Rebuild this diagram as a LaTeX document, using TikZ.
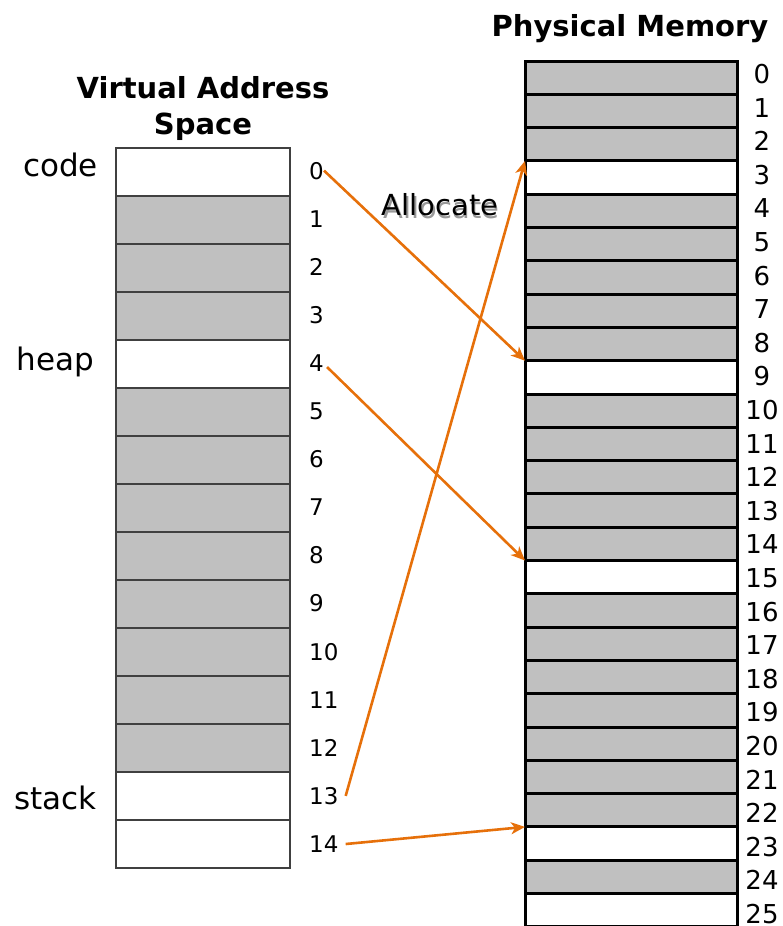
\documentclass[tikz,border=0pt]{standalone}
\usepackage{fontspec}
\setmainfont{DejaVu Sans}
\usetikzlibrary{arrows.meta}
\definecolor{cellgray}{RGB}{192,192,192}
\definecolor{allocorange}{RGB}{230,112,10}

\begin{document}
\begin{tikzpicture}
		[
			x=1pt, y=-1pt,
			vcell/.style = {rectangle, draw=black!75, line width=1.2pt, minimum width=174pt, minimum height=48pt, inner sep=0pt, outer sep=0pt},
			pcell/.style = {rectangle, draw=black, line width=3pt, minimum width=212pt, minimum height=33.3pt, inner sep=0pt, outer sep=0pt},
			used/.style = {fill=cellgray},
			free/.style = {fill=white},
			vnum/.style = {anchor=base west, inner sep=0pt, font=\fontsize{23}{27}\selectfont},
			pnum/.style = {anchor=base, inner sep=0pt, font=\fontsize{26}{30}\selectfont},
			seglabel/.style = {anchor=base east, inner sep=0pt, font=\fontsize{31}{36}\selectfont},
			title/.style = {align=center, inner sep=0pt, font=\bfseries\fontsize{29}{36}\selectfont},
			alloc/.style = {draw=allocorange, line width=2.6pt, -{Stealth[length=14pt,width=12pt,inset=4pt]}},
		]
		\useasboundingbox (0,0) rectangle (783,926);
		\clip (0,0) rectangle (783,926);

		% virtual address space
		\node[title] (vtitle) at (203,108.5) {Virtual Address\\Space};
		\foreach \i in {1,2,3,5,6,...,12}
		\node[vcell, used] (v\i) at (203, 172+48*\i) {};
		\foreach \i in {0,4,13,14}
		\node[vcell, free] (v\i) at (203, 172+48*\i) {};
		\foreach \i in {0,...,14}
		\node[vnum] (vn\i) at (309, 179+48.1*\i) {\i};

		\node[seglabel] (code) 	at ( 98, 176) {code};
		\node[seglabel] (heap) 	at ( 94, 370) {heap};
		\node[seglabel] (stack) at ( 97, 809) {stack};

		% physical memory
		\node[title, anchor=base] (ptitle) at (630,36) {Physical Memory};
		\foreach \i in {0,1,2,4,5,...,8,10,11,...,14,16,17,...,22,24}
		\node[pcell, used] (p\i) at (631, 77.65+33.3*\i) {};
		\foreach \i in {3,9,15,23,25}
		\node[pcell, free] (p\i) at (631, 77.65+33.3*\i) {};
		\foreach \i in {0,...,25}
		\node[pnum] (pn\i) at (762, 83.5+33.6*\i) {\i};

		% allocation arrows
		\node[anchor=base, text=black!40, font=\fontsize{29}{34}\selectfont] (allocshadow) at (441.5,218) {Allocate};
		\node[anchor=base, font=\fontsize{29}{34}\selectfont] (alloclabel) at (440,215) {Allocate};

		\draw[alloc] (vn0.east) -- (p9.north west);
		\draw[alloc] ([xshift=3pt,yshift=-4pt]vn4.east) -- (p15.north west);
		\draw[alloc] ([xshift=7pt]vn13.east) -- (p3.north west);
		\draw[alloc] ([xshift=7pt]vn14.east) -- (p23.north west);

\end{tikzpicture}
\end{document}
